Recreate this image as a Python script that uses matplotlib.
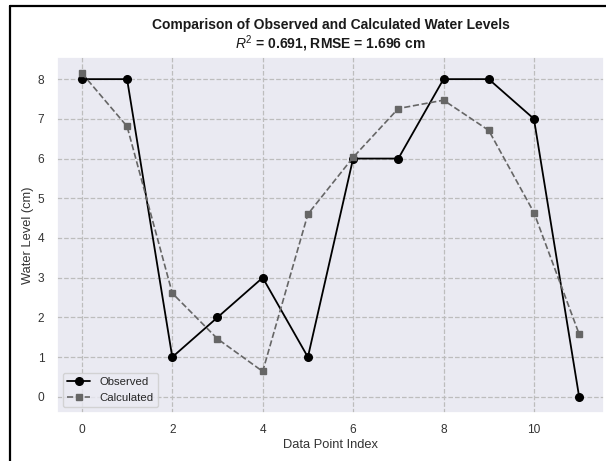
import matplotlib
matplotlib.use("Agg")
import matplotlib.pyplot as plt
import seaborn as sns
from matplotlib.lines import Line2D

# data
index = list(range(12))
observed = [8, 8, 1, 2, 3, 1, 6, 6, 8, 8, 7, 0]
calculated = [8.15, 6.81, 2.61, 1.46, 0.64, 4.60, 6.03, 7.26, 7.47, 6.71, 4.64, 1.58]
r2 = 0.691
rmse = 1.696

sns.set_theme(style="darkgrid")
plt.rcParams["font.family"] = ["Liberation Sans", "DejaVu Sans"]
plt.rcParams["mathtext.fontset"] = "custom"
plt.rcParams["mathtext.it"] = "Liberation Sans:italic"
plt.rcParams["mathtext.rm"] = "Liberation Sans"

fig = plt.figure(figsize=(6.06, 4.61), dpi=100)
ax = fig.add_axes([57 / 606, 48 / 461, 547 / 606, 356 / 461])

ax.plot(index, observed, color="black", marker="o", markersize=5.5,
        linewidth=1.3, label="Observed")
ax.plot(index, calculated, color="#666666", marker="s", markersize=4.8,
        linewidth=1.2, linestyle="--", label="Calculated")

ax.grid(True, linestyle="--", color="#bdbdbd", linewidth=0.9)
ax.set_xticks([0, 2, 4, 6, 8, 10])
ax.tick_params(axis="x", labelsize=8.6, labelcolor="#333333", pad=2)
ax.tick_params(axis="y", labelsize=8.6, labelcolor="#333333", pad=3)
ax.set_xlabel("Data Point Index", fontsize=9.3, color="#333333", labelpad=2)
ax.set_ylabel("Water Level (cm)", fontsize=9.3, color="#333333", labelpad=3)
ax.set_title("Comparison of Observed and Calculated Water Levels\n"
             f"$R^2$ = {r2:.3f}, RMSE = {rmse:.3f} cm",
             fontsize=10, fontweight="bold", color="#1a1a1a", pad=6,
             linespacing=1.1)
ax.legend(loc="lower left", fontsize=8.2, frameon=True, borderaxespad=0.5)

# figure frame (cropped on the right and bottom in the reference)
fig.add_artist(Line2D([10 / 606, 10 / 606], [0, 1 - 6 / 461],
                      transform=fig.transFigure, color="black", linewidth=1.6))
fig.add_artist(Line2D([10 / 606, 1], [1 - 6 / 461, 1 - 6 / 461],
                      transform=fig.transFigure, color="black", linewidth=1.6))

fig.savefig("out.png", dpi=100)
